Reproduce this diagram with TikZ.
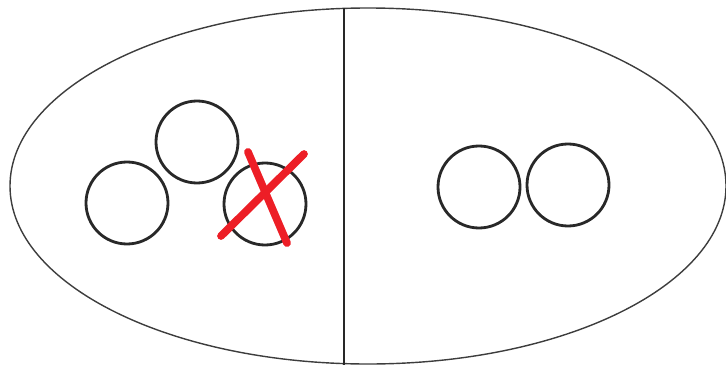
\documentclass[tikz,border=0pt]{standalone}
\usepackage{tikz}
\definecolor{crossred}{RGB}{237,30,38}
\definecolor{inkgray}{RGB}{40,40,40}
\begin{document}
\begin{tikzpicture}[x=0.02cm, y=-0.02cm]
    \useasboundingbox (0,0) rectangle (726,365);
    \coordinate (M) at (368,186);
    \coordinate (T) at (344,8);
    \coordinate (U) at (344,365);
    \coordinate (P) at (127,203);
    \coordinate (Q) at (197,142);
    \coordinate (R) at (265,204);
    \coordinate (S) at (479,187);
    \coordinate (V) at (568,185);
    \coordinate (X1) at (248,152);
    \coordinate (X2) at (287,243);
    \coordinate (Y1) at (221,236);
    \coordinate (Y2) at (304,154);

    \draw[line width=0.8pt, inkgray!90] (M) ellipse [x radius=358, y radius=178];
    \draw[line width=0.8pt, inkgray] (T)--(U);

    \draw[line width=1.6pt, inkgray] (P) circle [radius=41];
    \draw[line width=1.6pt, inkgray] (Q) circle [radius=41];
    \draw[line width=1.6pt, inkgray] (R) circle [radius=41];
    \draw[line width=1.6pt, inkgray] (S) circle [radius=41];
    \draw[line width=1.6pt, inkgray] (V) circle [radius=41];

    \draw[line width=4.4pt, line cap=round, crossred] (X1)--(X2);
    \draw[line width=4.4pt, line cap=round, crossred] (Y1)--(Y2);
\end{tikzpicture}
\end{document}
